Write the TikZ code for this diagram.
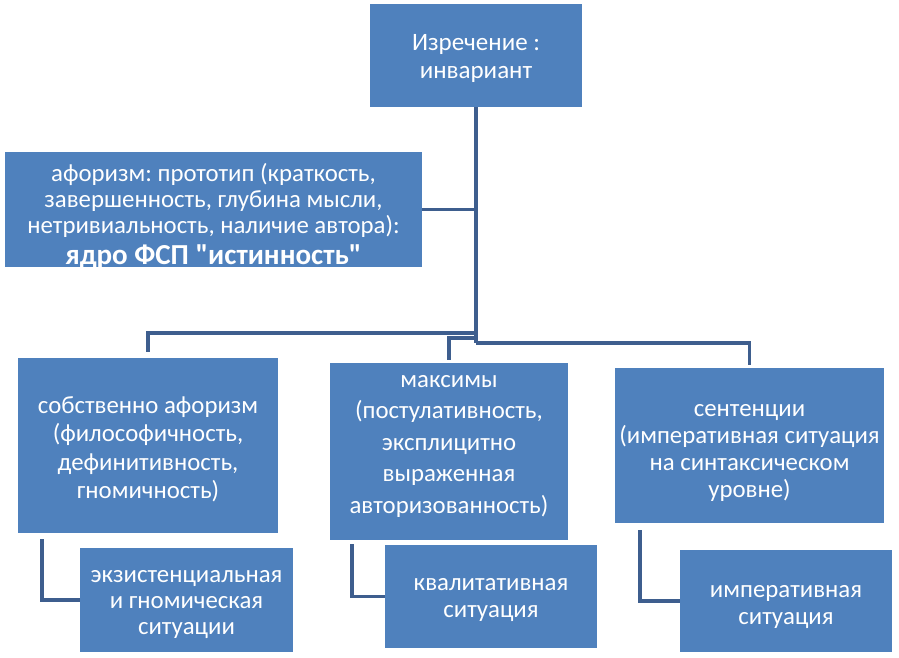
\documentclass[tikz,border=0pt]{standalone}
\usepackage{fontspec}
\setmainfont{Carlito}
\definecolor{boxblue}{HTML}{4F81BD}
\definecolor{linkblue}{HTML}{3E5E8E}
\begin{document}
\frenchspacing
\begin{tikzpicture}[x=1pt,y=-1pt,
  box/.style={fill=boxblue,draw=none,inner sep=0pt},
  txt/.style={text=white,align=center,font=\fontsize{24.8}{26}\selectfont,inner sep=0pt},
  conn/.style={draw=linkblue,line width=3.6pt}]
\useasboundingbox (0,0) rectangle (899,657);
% boxes
\node[box,minimum width=212pt,minimum height=103pt] (top) at (476,55.5) {};
\node[box,minimum width=417pt,minimum height=115pt] (aph) at (213.5,209.5) {};
\node[box,minimum width=260pt,minimum height=175pt] (left) at (148,445.5) {};
\node[box,minimum width=238pt,minimum height=177pt] (mid) at (449,451.5) {};
\node[box,minimum width=269pt,minimum height=155pt] (right) at (749.5,445.5) {};
\node[box,minimum width=213pt,minimum height=104pt] (subL) at (186.5,600) {};
\node[box,minimum width=212pt,minimum height=103pt] (subM) at (491,596.5) {};
\node[box,minimum width=212pt,minimum height=102pt] (subR) at (786,601) {};
% texts
\node[txt,font=\fontsize{25}{28}\selectfont] (topT) at ([yshift=-3pt]top.center) {Изречение :\\инвариант};
\node[txt,font=\fontsize{24.8}{25.8}\selectfont] (aphT) at ([yshift=-7pt]aph.center)
  {афоризм: прототип (краткость,\\завершенность, глубина мысли,\\нетривиальность, наличие автора):\\[6pt]{\bfseries\fontsize{29}{26}\selectfont ядро ФСП \textquotedbl истинность\textquotedbl}};
\node[txt,font=\fontsize{24.8}{28.5}\selectfont] (leftT) at ([yshift=-4pt]left.center)
  {собственно афоризм\\(философичность,\\дефинитивность,\\гномичность)};
\node[txt,font=\fontsize{24.8}{31.5}\selectfont] (midT) at ([yshift=5.5pt]mid.center)
  {максимы\\(постулативность,\\эксплицитно\\выраженная\\авторизованность)};
\node[txt,font=\fontsize{24.8}{27}\selectfont] (rightT) at ([yshift=-7pt]right.center)
  {сентенции\\(императивная ситуация\\на синтаксическом\\уровне)};
\node[txt] (subLT) at ([yshift=-4pt]subL.center)
  {экзистенциальная\\и гномическая\\ситуации};
\node[txt,font=\fontsize{24.8}{27}\selectfont] (subMT) at ([yshift=-3pt]subM.center)
  {квалитативная\\ситуация};
\node[txt,font=\fontsize{24.8}{27}\selectfont] (subRT) at ([yshift=-6pt]subR.center)
  {императивная\\ситуация};
% connectors
\coordinate (jL) at (476,333);
\coordinate (jM) at (476,338);
\coordinate (jR) at (476,343);
\draw[conn] (top.south) -- (jR);
\draw[conn] (top.south) |- (aph.east);
\draw[conn,shorten >=6pt] (jL) -| (left.north);
\draw[conn,shorten >=3pt] (jM) -| (mid.north);
\draw[conn,shorten >=3pt] (jR) -| (right.north);
\draw[conn,shorten <=6pt] ([xshift=24pt]left.south west) |- (subL.west);
\draw[conn,shorten <=4pt] ([xshift=22pt]mid.south west) |- (subM.west);
\draw[conn,shorten <=7pt] ([xshift=25pt]right.south west) |- (subR.west);
\end{tikzpicture}
\end{document}
